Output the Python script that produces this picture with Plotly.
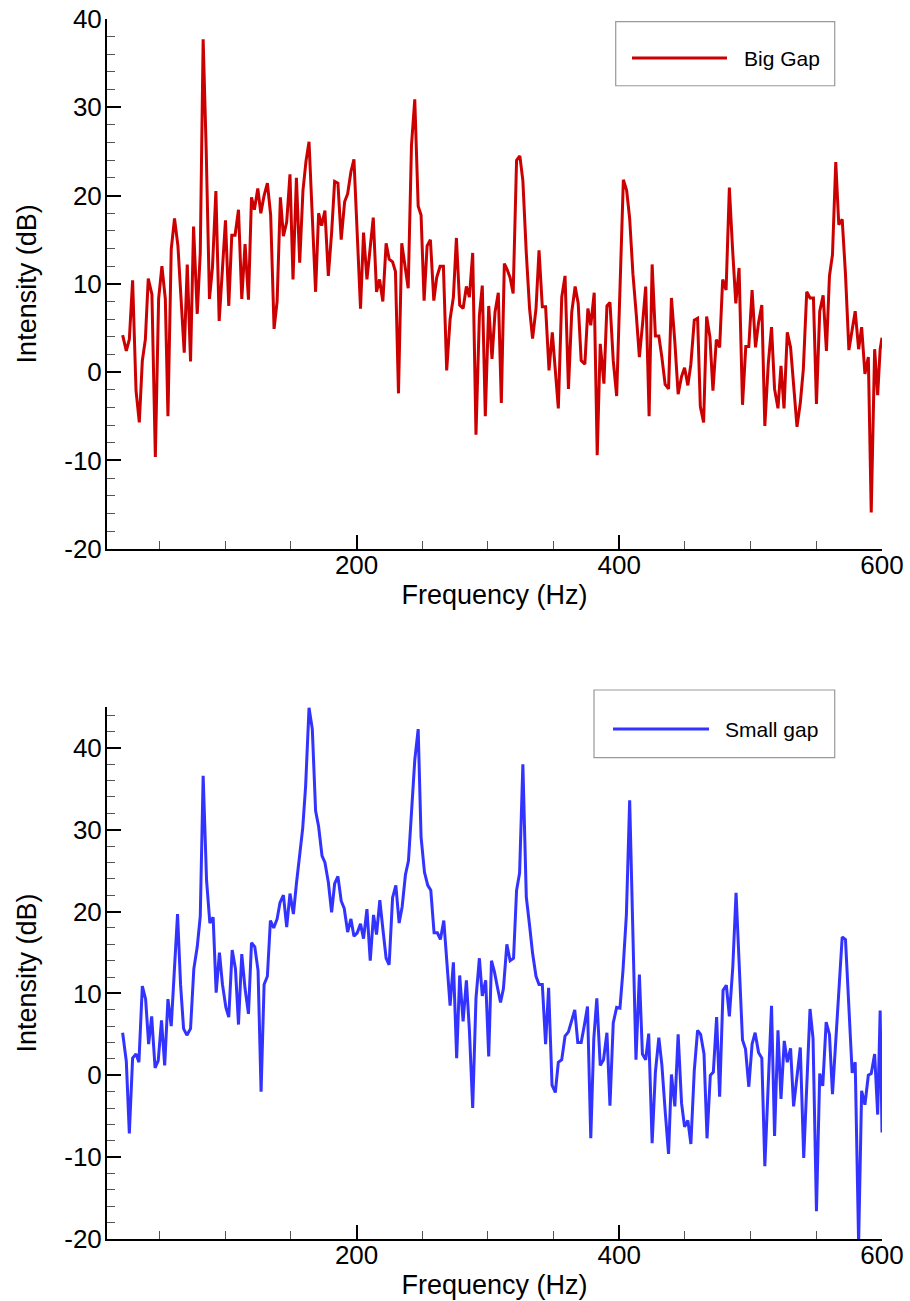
import plotly.graph_objects as go

# ---------------- data ----------------
big_freq = [21.9, 24.7, 27.0, 29.5, 32.1, 34.6, 36.9, 39.2, 41.4, 44.2, 46.8, 49.3, 51.8, 54.4, 56.4, 58.9,
            61.4, 64.0, 68.8, 71.1, 73.6, 75.9, 78.7, 81.0, 83.2, 85.5, 88.0, 90.3, 92.9, 95.4, 100.2, 102.7,
            105.0, 107.5, 110.1, 112.6, 115.1, 117.7, 120.0, 122.2, 124.8, 127.1, 129.6, 132.1, 134.6, 137.2,
            139.5, 142.0, 144.3, 146.8, 149.3, 151.6, 154.2, 156.7, 159.2, 161.5, 163.8, 168.8, 171.1, 173.4,
            175.9, 178.5, 181.0, 183.3, 185.8, 188.3, 190.9, 193.2, 195.7, 198.0, 203.0, 205.3, 207.9, 212.7,
            215.2, 217.5, 220.0, 222.5, 224.8, 227.4, 229.6, 231.9, 234.4, 239.3, 241.8, 244.3, 246.9, 249.1,
            251.4, 253.7, 256.2, 258.8, 261.0, 263.6, 266.1, 268.6, 271.2, 273.7, 276.0, 278.5, 281.1, 283.6,
            285.9, 288.4, 290.9, 293.5, 295.7, 298.0, 300.6, 303.1, 305.4, 307.9, 310.2, 312.5, 314.4, 316.9,
            319.2, 321.8, 324.3, 326.6, 329.2, 331.7, 334.0, 336.6, 338.9, 341.4, 343.9, 346.5, 349.0, 351.3,
            353.6, 356.2, 358.7, 361.3, 363.8, 366.4, 368.7, 371.0, 373.8, 376.1, 378.3, 380.9, 383.2, 385.5,
            388.3, 390.6, 392.9, 395.4, 398.0, 403.1, 405.6, 407.9, 410.4, 413.0, 415.3, 417.8, 420.1, 422.7,
            425.0, 427.5, 430.1, 432.4, 434.9, 437.5, 439.7, 442.3, 444.8, 447.4, 449.7, 452.2, 454.5, 457.1,
            459.6, 461.7, 464.2, 466.5, 469.0, 471.3, 473.9, 476.4, 478.7, 481.3, 483.8, 486.1, 488.7, 491.2,
            493.8, 496.3, 498.6, 501.1, 503.7, 506.0, 508.5, 510.8, 513.4, 515.9, 518.2, 520.8, 523.1, 525.4,
            527.9, 530.4, 533.0, 535.3, 537.8, 540.1, 542.7, 545.2, 547.8, 550.1, 552.6, 555.2, 557.7, 560.0,
            562.3, 564.8, 567.1, 569.7, 572.2, 574.8, 577.3, 579.6, 582.2, 584.5, 587.0, 589.6, 591.8, 594.4,
            596.7, 598.6, 600.0]
big_db = [4.2, 2.4, 3.7, 10.4, -2.1, -5.7, 1.3, 3.7, 10.6, 8.8, -9.6, 8.3, 12.0, 8.3, -5.0, 13.9,
          17.4, 14.3, 2.2, 12.2, 1.2, 16.5, 6.6, 13.5, 37.7, 25.3, 8.3, 11.9, 20.5, 5.8, 17.2, 7.5,
          15.5, 15.5, 18.4, 8.3, 14.5, 8.2, 19.8, 18.4, 20.8, 18.0, 20.0, 21.4, 17.8, 4.9,
          8.0, 19.8, 15.4, 17.0, 22.4, 10.5, 22.0, 12.4, 20.6, 23.9, 26.1, 9.1, 18.0, 16.6,
          18.3, 10.9, 15.8, 21.6, 21.4, 15.0, 19.3, 20.2, 22.7, 24.1, 7.2, 15.8, 10.5, 17.5,
          9.1, 10.5, 8.0, 14.6, 12.8, 12.5, 11.4, -2.4, 14.6, 9.5, 25.7, 30.9, 18.8, 17.8,
          8.1, 14.3, 15.0, 8.1, 10.7, 12.0, 12.0, 0.2, 6.0, 8.5, 15.2, 7.6, 7.2, 9.7,
          8.5, 13.5, -7.1, 6.4, 9.8, -5.0, 7.5, 1.5, 6.8, 9.0, -3.5, 12.3, 11.7, 10.7,
          8.9, 24.0, 24.5, 21.7, 13.5, 7.2, 3.8, 7.2, 13.8, 7.4, 7.4, 0.2, 4.5, 0.1,
          -4.1, 8.5, 10.9, -1.9, 6.8, 9.7, 7.8, 1.3, 0.9, 7.2, 5.3, 9.0, -9.4, 3.2,
          -1.3, 7.5, 7.9, 1.3, -2.7, 21.8, 20.6, 17.4, 11.1, 6.4, 1.7, 5.6, 9.7, -5.0,
          12.2, 4.1, 4.1, 1.7, -1.4, -1.9, 8.4, 3.4, -2.5, -0.5, 0.5, -1.5, 0.9, 5.9,
          6.1, -3.9, -5.7, 6.3, 4.0, -2.1, 3.7, 2.8, 10.5, 9.3, 20.9, 14.3, 7.8, 11.8,
          -3.7, 2.9, 2.9, 9.3, 2.8, 5.6, 7.6, -6.1, 0.9, 5.1, -1.9, -4.1, 0.7, -4.1,
          4.5, 2.8, -1.9, -6.2, -3.5, 0.3, 9.1, 8.4, 8.4, -3.6, 6.9, 8.7, 2.4, 10.9,
          13.3, 23.8, 16.7, 17.3, 11.1, 2.5, 4.8, 6.9, 2.6, 5.1, -0.2, 1.7, -15.9, 2.6,
          -2.6, 2.6, 3.9]

small_freq = [21.9, 24.7, 27.0, 29.5, 32.1, 34.3, 36.9, 39.4, 41.7, 44.0, 46.6, 49.0, 51.5, 53.9, 56.4, 58.9,
              61.1, 63.7, 66.0, 68.3, 70.8, 73.6, 76.1, 78.7, 81.0, 83.2, 85.8, 88.3, 90.8, 93.1, 95.6, 97.9,
              100.5, 102.7, 105.3, 107.8, 110.1, 112.6, 115.1, 117.7, 120.0, 122.5, 125.0, 127.3, 129.6, 132.1,
              134.4, 136.9, 139.5, 141.7, 144.3, 146.8, 149.3, 151.9, 154.2, 156.4, 159.0, 161.2, 163.8, 166.3,
              168.8, 171.1, 173.7, 175.9, 178.5, 181.0, 183.3, 185.8, 188.3, 190.6, 193.2, 195.7, 198.0, 200.5,
              203.0, 205.3, 207.9, 210.4, 212.9, 215.2, 217.7, 220.0, 222.5, 224.8, 227.4, 229.9, 232.4, 234.7,
              237.2, 239.5, 242.0, 244.3, 246.9, 249.1, 251.7, 254.2, 256.5, 259.0, 261.5, 263.8, 266.4, 268.6,
              271.2, 273.7, 276.2, 278.5, 281.1, 283.6, 285.9, 288.4, 290.9, 293.5, 295.7, 298.3, 300.6, 302.7,
              305.0, 307.3, 309.6, 311.8, 314.4, 316.9, 319.5, 321.8, 324.1, 326.6, 329.2, 331.7, 334.0, 336.6,
              338.9, 341.4, 343.9, 346.2, 348.8, 351.3, 353.6, 356.2, 358.7, 361.3, 363.8, 366.1, 368.4, 371.0,
              373.5, 375.8, 378.3, 380.6, 382.9, 385.5, 388.0, 390.6, 392.9, 395.4, 398.0, 400.5, 402.8, 405.4,
              407.9, 410.2, 412.7, 415.3, 417.6, 420.1, 422.4, 425.0, 427.5, 430.1, 432.4, 434.9, 437.5, 439.7,
              442.3, 444.8, 447.4, 449.7, 452.2, 454.5, 457.1, 459.6, 461.9, 464.5, 466.8, 469.3, 471.6, 474.1,
              476.4, 479.0, 481.5, 483.8, 486.4, 488.9, 491.2, 493.8, 496.1, 498.6, 501.1, 503.4, 506.0, 508.5,
              510.8, 513.4, 515.9, 518.2, 520.8, 523.1, 525.6, 527.9, 530.4, 532.7, 535.3, 537.8, 540.4, 542.7,
              545.2, 547.5, 550.1, 552.6, 554.9, 557.5, 560.0, 562.3, 564.8, 567.1, 569.7, 572.2, 574.8, 577.3,
              579.6, 582.2, 584.5, 587.0, 589.6, 591.8, 594.4, 596.7, 598.6, 600.0]
small_db = [5.2, 1.7, -7.1, 2.1, 2.6, 1.6, 10.9, 9.3, 3.8, 7.2, 0.9, 1.8, 6.7, 1.2, 9.3, 6.0,
            12.3, 19.7, 11.1, 5.7, 4.9, 5.7, 13.0, 15.7, 19.4, 36.6, 23.8, 18.6, 19.3, 10.1, 15.0, 11.1,
            8.3, 7.1, 15.3, 13.0, 6.2, 14.8, 10.6, 7.5, 16.2, 15.7, 12.8, -2.0, 11.1, 12.1,
            18.9, 18.0, 19.1, 21.1, 22.0, 18.1, 22.2, 19.7, 23.4, 26.8, 30.2, 35.3, 44.9, 42.3,
            32.3, 30.4, 26.8, 26.0, 23.6, 19.9, 23.4, 24.3, 21.3, 20.4, 17.5, 19.1, 17.0, 17.4,
            18.5, 16.7, 20.3, 14.0, 19.6, 17.2, 21.4, 17.9, 14.3, 13.5, 21.7, 23.2, 18.6, 20.6,
            24.5, 26.2, 33.2, 38.5, 42.3, 29.1, 24.8, 23.2, 22.6, 17.4, 17.4, 16.6, 18.9, 14.5,
            8.5, 13.8, 2.1, 12.2, 6.6, 11.6, 5.5, -4.0, 9.4, 14.3, 9.7, 11.6, 2.3, 14.0,
            12.6, 10.7, 8.9, 10.6, 16.0, 14.0, 14.3, 22.6, 24.7, 38.0, 21.8, 18.3, 14.9, 12.1,
            11.1, 11.1, 3.8, 10.7, -1.2, -2.1, 1.6, 1.9, 4.8, 5.3, 6.7, 8.0, 4.0, 4.0,
            6.2, 8.4, -7.7, 4.5, 9.4, 1.2, 1.9, 5.2, -3.7, 6.4, 8.3, 8.2, 12.8, 19.6,
            33.6, 18.3, 1.9, 12.3, 2.6, 1.9, 5.1, -8.3, 0.4, 4.6, 1.3, -4.3, -9.6, 0.1,
            -3.8, 5.0, -3.4, -6.3, -5.5, -8.4, 0.6, 5.5, 5.0, 2.6, -7.7, 0.0, 0.4, 7.1,
            -2.6, 10.4, 11.0, 7.2, 13.2, 22.3, 14.0, 4.3, 3.2, -1.4, 3.8, 5.2, 2.8, 2.1,
            -11.1, -0.9, 8.5, -7.4, 5.5, -2.9, 4.2, 1.6, 3.3, -3.8, -0.4, 3.4, -10.1, -0.9,
            8.1, 4.5, -16.6, 0.2, -1.3, 6.5, 5.0, -2.3, 3.8, 10.2, 16.9, 16.6, 8.5, 0.3,
            1.6, -20.5, -1.9, -3.6, 0.0, 0.2, 2.6, -4.8, 7.9, -7.0]

series_names = ["Big Gap", "Small gap"]
series_colors = ["#cc0000", "#3333ff"]

x_tickvals = [200, 400, 600]
x_ticktext = ["200", "400", "600"]
y_tickvals = [-20, -10, 0, 10, 20, 30, 40]
y_ticktext = ["-20", "-10", "0", "10", "20", "30", "40"]

# ---------------- figure ----------------
FONT = "Liberation Sans, Arial, Helvetica, sans-serif"
fig = go.Figure()
fig.add_trace(go.Scatter(x=big_freq, y=big_db, mode="lines", name=series_names[0],
                         line=dict(color=series_colors[0], width=3), xaxis="x", yaxis="y",
                         showlegend=False))
fig.add_trace(go.Scatter(x=small_freq, y=small_db, mode="lines", name=series_names[1],
                         line=dict(color=series_colors[1], width=3), xaxis="x2", yaxis="y2",
                         showlegend=False))

def xax(anchor):
    return dict(range=[10, 600], tickmode="array", tickvals=x_tickvals, ticktext=x_ticktext,
                ticks="inside", ticklen=14, tickwidth=2,
                tickcolor="black", showline=True, linecolor="black", linewidth=2, mirror=False,
                showgrid=False, zeroline=False, anchor=anchor, automargin=False,
                tickfont=dict(family=FONT, size=26, color="black"), ticklabelstandoff=-8,
                title=dict(text="Frequency (Hz)", font=dict(family=FONT, size=27, color="black"),
                           standoff=6),
                minor=dict(tickmode="linear", dtick=50, tick0=0, ticks="inside", ticklen=8, tickwidth=1,
                           tickcolor="#555555", showgrid=False))

def yax(rng, dom, anchor):
    return dict(range=rng, domain=dom, tickmode="array", tickvals=y_tickvals, ticktext=y_ticktext,
                ticks="inside", ticklen=14, tickwidth=2,
                tickcolor="black", showline=True, linecolor="black", linewidth=2,
                showgrid=False, zeroline=False, anchor=anchor, automargin=False,
                tickfont=dict(family=FONT, size=26, color="black"), ticklabelstandoff=-2,
                title=dict(text="Intensity (dB)", font=dict(family=FONT, size=27, color="black"),
                           standoff=20),
                minor=dict(tickmode="linear", dtick=2, tick0=0, ticks="inside", ticklen=8, tickwidth=1,
                           tickcolor="#555555", showgrid=False))

fig.update_layout(
    width=910, height=1301,
    margin=dict(l=107, r=28, t=19, b=62, autoexpand=False),
    paper_bgcolor="white", plot_bgcolor="white",
    xaxis=xax("y"),
    yaxis=yax([-20, 40], [0.5658, 1.0], "x"),
    xaxis2=xax("y2"),
    yaxis2=yax([-20, 45], [0.0, 0.4361], "x2"),
    showlegend=False,
)

# ---------------- legend boxes (drawn) ----------------
legend_boxes = [
    dict(box=(0.6564, 0.9453, 0.9390, 0.9978), line=(0.6774, 0.8000, 0.9680), tx=0.8194),
    dict(box=(0.6284, 0.3945, 0.9390, 0.4500), line=(0.6529, 0.7768, 0.4180), tx=0.7945),
]
for i, lb in enumerate(legend_boxes):
    x0, y0, x1, y1 = lb["box"]
    fig.add_shape(type="rect", xref="paper", yref="paper", x0=x0, y0=y0, x1=x1, y1=y1,
                  line=dict(color="#999999", width=1.2), fillcolor="white", layer="above")
    lx0, lx1, ly = lb["line"]
    fig.add_shape(type="line", xref="paper", yref="paper", x0=lx0, x1=lx1, y0=ly, y1=ly,
                  line=dict(color=series_colors[i], width=3), layer="above")
    fig.add_annotation(xref="paper", yref="paper", x=lb["tx"], y=ly, text=series_names[i],
                       showarrow=False, xanchor="left", yanchor="middle",
                       font=dict(family=FONT, size=21, color="black"))

fig.write_html("out.html", config={"displayModeBar": False},
               post_script="document.body.style.margin='0';document.body.style.padding='0';")
